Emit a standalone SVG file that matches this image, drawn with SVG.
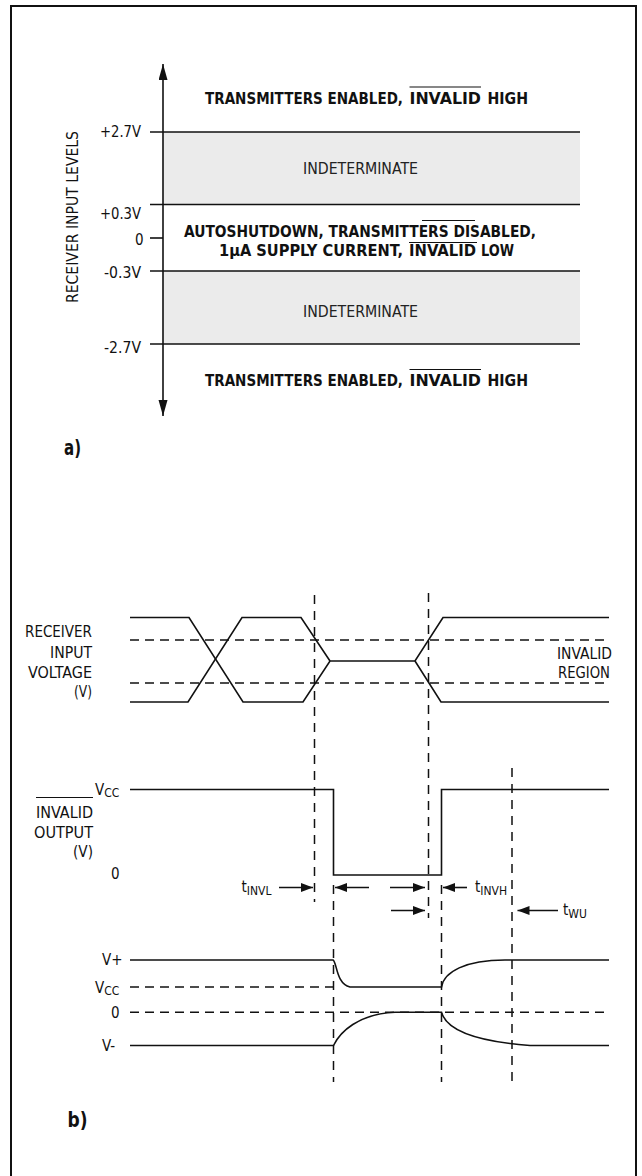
<svg xmlns="http://www.w3.org/2000/svg" width="642" height="1176" viewBox="0 0 642 1176">
<style>
text{font-family:'Liberation Sans Narrow','Arial Narrow','DejaVu Sans Condensed','Liberation Sans',sans-serif;fill:#111}
.lbl{font-size:15px}
.hd{font-size:16px;font-weight:bold}
.ind{font-size:15px;fill:#222}
.big{font-size:21px;font-weight:bold}
.sub{font-size:12px}
.ln{stroke:#111;stroke-width:1.6;fill:none}
.dh{stroke:#111;stroke-width:1.5;stroke-dasharray:9 6;fill:none}
.dv{stroke:#111;stroke-width:1.5;stroke-dasharray:9 7;fill:none}
.ol{stroke:#111;stroke-width:1.2}
.ar{stroke:#111;stroke-width:1.6;fill:none;marker-end:url(#ah)}
</style>
<defs>
<marker id="ah" markerUnits="userSpaceOnUse" markerWidth="13" markerHeight="10" refX="12" refY="4.5" orient="auto">
<path d="M0,0 L12,4.5 L0,9 Z" fill="#111"/>
</marker>
<marker id="bigah" markerUnits="userSpaceOnUse" markerWidth="17" markerHeight="10" refX="16" refY="4.5" orient="auto">
<path d="M0,0 L16,4.5 L0,9 Z" fill="#111"/>
</marker>
</defs>
<rect width="642" height="1176" fill="#fff"/>
<path id="border" d="M11,1176 V6 H636 V1176" fill="none" stroke="#111" stroke-width="2"/>

<!-- Part a -->
<g id="bands">
<rect x="163" y="132" width="417" height="72" fill="#ebebeb"/>
<rect x="163" y="271" width="417" height="73" fill="#ebebeb"/>
</g>
<g id="levels" class="ln">
<line x1="150" y1="132" x2="580" y2="132"/>
<line x1="150" y1="204.5" x2="580" y2="204.5"/>
<line x1="150" y1="238" x2="163" y2="238"/>
<line x1="150" y1="271" x2="580" y2="271"/>
<line x1="150" y1="344" x2="580" y2="344"/>
</g>
<g id="axis">
<line x1="163" y1="240" x2="163" y2="64" stroke="#111" stroke-width="1.6" marker-end="url(#bigah)"/>
<line x1="163" y1="240" x2="163" y2="416" stroke="#111" stroke-width="1.6" marker-end="url(#bigah)"/>
</g>
<g id="axis-labels" class="lbl">
<text x="100" y="137" textLength="41" lengthAdjust="spacingAndGlyphs">+2.7V</text>
<text x="100" y="219" textLength="41" lengthAdjust="spacingAndGlyphs">+0.3V</text>
<text x="135" y="245">0</text>
<text x="104" y="278" textLength="37" lengthAdjust="spacingAndGlyphs">-0.3V</text>
<text x="104" y="353" textLength="37" lengthAdjust="spacingAndGlyphs">-2.7V</text>
<text transform="translate(78,303) rotate(-90)" x="0" y="0" textLength="172" lengthAdjust="spacingAndGlyphs">RECEIVER INPUT LEVELS</text>
</g>
<g id="region-top" class="hd">
<text x="205" y="104" textLength="198" lengthAdjust="spacingAndGlyphs">TRANSMITTERS ENABLED,</text>
<text x="409.5" y="104" textLength="71.5" lengthAdjust="spacingAndGlyphs">INVALID</text>
<text x="487.5" y="104" textLength="40.5" lengthAdjust="spacingAndGlyphs">HIGH</text>
<line class="ol" x1="409.5" y1="87" x2="481" y2="87"/>
</g>
<g id="region-ind1">
<text class="ind" x="303" y="174" textLength="115" lengthAdjust="spacingAndGlyphs">INDETERMINATE</text>
</g>
<g id="region-shutdown" class="hd">
<text x="184" y="236.5" textLength="352" lengthAdjust="spacingAndGlyphs">AUTOSHUTDOWN, TRANSMITTERS DISABLED,</text>
<text x="219" y="256" textLength="184" lengthAdjust="spacingAndGlyphs">1μA SUPPLY CURRENT,</text>
<text x="409" y="256" textLength="67" lengthAdjust="spacingAndGlyphs">INVALID</text>
<text x="481" y="256" textLength="33" lengthAdjust="spacingAndGlyphs">LOW</text>
<line class="ol" x1="422" y1="220.5" x2="475" y2="220.5"/>
<line class="ol" x1="409" y1="242.5" x2="477" y2="242.5"/>
</g>
<g id="region-ind2">
<text class="ind" x="303" y="317" textLength="115" lengthAdjust="spacingAndGlyphs">INDETERMINATE</text>
</g>
<g id="region-bottom" class="hd">
<text x="205" y="386" textLength="198" lengthAdjust="spacingAndGlyphs">TRANSMITTERS ENABLED,</text>
<text x="409.5" y="386" textLength="71.5" lengthAdjust="spacingAndGlyphs">INVALID</text>
<text x="487.5" y="386" textLength="40.5" lengthAdjust="spacingAndGlyphs">HIGH</text>
<line class="ol" x1="409.5" y1="369.5" x2="481" y2="369.5"/>
</g>
<text id="label-a" class="big" x="64" y="455" textLength="17" lengthAdjust="spacingAndGlyphs">a)</text>

<!-- Part b -->
<g id="guides">
<line class="dh" x1="130" y1="640" x2="609" y2="640"/>
<line class="dh" x1="130" y1="683" x2="609" y2="683"/>
<line class="dh" x1="130" y1="987" x2="333" y2="987"/>
<line class="dh" x1="130" y1="1012.3" x2="609" y2="1012.3"/>
<line class="dv" x1="314.5" y1="595" x2="314.5" y2="902"/>
<line class="dv" x1="428.5" y1="593" x2="428.5" y2="918"/>
<line class="dv" x1="512" y1="768" x2="512" y2="1082"/>
<line class="dv" x1="333.5" y1="885" x2="333.5" y2="1082"/>
<line class="dv" x1="441.5" y1="885" x2="441.5" y2="1082"/>
</g>
<g id="input-voltage" class="ln">
<path d="M130,617.5 H189 L243,702 H303 L330,661 H415 L443,617.5 H609"/>
<path d="M130,702 H188 L242,617.5 H301 L330,661 M415,661 L441,702 H609"/>
</g>
<g id="input-labels" class="lbl">
<text x="25" y="637" textLength="67" lengthAdjust="spacingAndGlyphs">RECEIVER</text>
<text x="50" y="657.5" textLength="42" lengthAdjust="spacingAndGlyphs">INPUT</text>
<text x="28" y="678" textLength="64" lengthAdjust="spacingAndGlyphs">VOLTAGE</text>
<text x="74" y="697" textLength="18" lengthAdjust="spacingAndGlyphs">(V)</text>
<text x="557" y="659" textLength="55" lengthAdjust="spacingAndGlyphs">INVALID</text>
<text x="558" y="678" textLength="52" lengthAdjust="spacingAndGlyphs">REGION</text>
</g>
<g id="invalid-output" class="ln">
<path d="M130,789.5 H333.5 V875 H441.5 V789.5 H609"/>
</g>
<g id="output-labels" class="lbl">
<text x="95" y="795">V<tspan class="sub" dy="2">CC</tspan></text>
<text x="36" y="818" textLength="57" lengthAdjust="spacingAndGlyphs">INVALID</text>
<line class="ol" x1="36" y1="797.5" x2="93" y2="797.5"/>
<text x="34" y="838" textLength="59" lengthAdjust="spacingAndGlyphs">OUTPUT</text>
<text x="73" y="857" textLength="20" lengthAdjust="spacingAndGlyphs">(V)</text>
<text x="111" y="879">0</text>
</g>
<g id="timing">
<line class="ar" x1="279" y1="887.5" x2="313" y2="887.5"/>
<line class="ar" x1="369" y1="887.5" x2="335" y2="887.5"/>
<line class="ar" x1="390" y1="887.5" x2="425" y2="887.5"/>
<line class="ar" x1="467" y1="887.5" x2="443" y2="887.5"/>
<line class="ar" x1="391" y1="910.5" x2="425" y2="910.5"/>
<line class="ar" x1="558" y1="910.5" x2="517.5" y2="910.5"/>
<text class="lbl" x="241.5" y="892">t<tspan class="sub" dy="3">INVL</tspan></text>
<text class="lbl" x="475" y="892">t<tspan class="sub" dy="3">INVH</tspan></text>
<text class="lbl" x="563" y="915">t<tspan class="sub" dy="3">WU</tspan></text>
</g>
<g id="supplies" class="ln">
<path d="M130,960 H333 C337,962 336,984 350,987 H441.5 C444,972 465,960 505,960 H609"/>
<path d="M130,1045.5 H333.5 C340,1032 358,1014 395,1012.3 H441.5 C446,1028 470,1041 530,1045.5 H609"/>
</g>
<g id="supply-labels" class="lbl">
<text x="102" y="965">V+</text>
<text x="95" y="993">V<tspan class="sub" dy="2">CC</tspan></text>
<text x="111" y="1018">0</text>
<text x="102" y="1051">V-</text>
</g>
<text id="label-b" class="big" x="67.5" y="1126.5" textLength="20" lengthAdjust="spacingAndGlyphs">b)</text>
</svg>
